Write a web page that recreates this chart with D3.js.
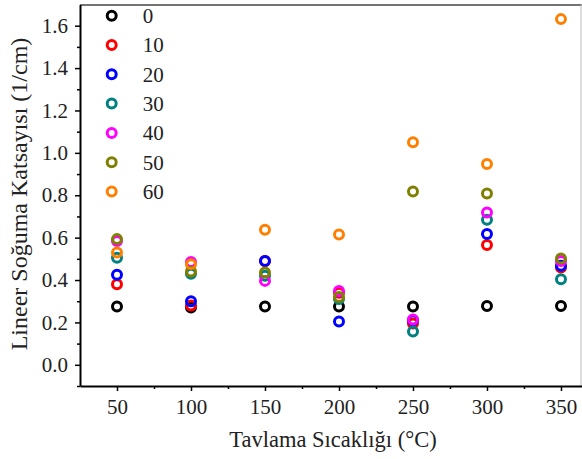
<!DOCTYPE html>
<html>
<head>
<meta charset="utf-8">
<script src="https://cdn.jsdelivr.net/npm/d3@7"></script>
<style>
  body { margin: 0; background: #fff; }
  svg { display: block; }
  svg text { font-family: "Liberation Serif", "Times New Roman", serif; }
</style>
</head>
<body>
<svg id="chart" width="582" height="459"></svg>
<script>
// annealing temperatures (x) and one series per legend entry
const temps = [50, 100, 150, 200, 250, 300, 350];
const seriesNames = ['0', '10', '20', '30', '40', '50', '60'];
const seriesColors = ['#000000', '#ff0000', '#0000ff', '#008080', '#ff00ff', '#808000', '#ff8000'];

const s0  = [0.275, 0.270, 0.275, 0.275, 0.275, 0.278, 0.278];
const s10 = [0.380, 0.280, 0.490, 0.340, 0.195, 0.565, 0.459];
const s20 = [0.425, 0.300, 0.490, 0.204, 0.210, 0.617, 0.467];
const s30 = [0.505, 0.430, 0.420, 0.310, 0.157, 0.684, 0.404];
const s40 = [0.584, 0.485, 0.396, 0.348, 0.214, 0.719, 0.490];
const s50 = [0.593, 0.440, 0.436, 0.320, 0.818, 0.808, 0.502];
const s60 = [0.530, 0.475, 0.637, 0.615, 1.050, 0.947, 1.631];
const allSeries = [s0, s10, s20, s30, s40, s50, s60];

const xTicks = [50, 100, 150, 200, 250, 300, 350];
const xMinor = [75, 125, 175, 225, 275, 325];
const yTicks = [0.0, 0.2, 0.4, 0.6, 0.8, 1.0, 1.2, 1.4, 1.6];
const yMinor = [-0.1, 0.1, 0.3, 0.5, 0.7, 0.9, 1.1, 1.3, 1.5];

const svg = d3.select('#chart');
const textColor = '#222';

const x = d3.scaleLinear().domain([25, 364]).range([80, 581.7]);
const y = d3.scaleLinear().domain([-0.1, 1.7]).range([386, 4.5]);

// frame (top and right)
svg.append('line')
    .attr('x1', x.range()[0]).attr('x2', x.range()[1])
    .attr('y1', 5).attr('y2', 5)
    .attr('stroke', '#444').attr('stroke-width', 1.5);
svg.append('line')
    .attr('x1', 581).attr('x2', 581)
    .attr('y1', 5).attr('y2', y.range()[0])
    .attr('stroke', '#bbb').attr('stroke-width', 1);

// minor ticks
svg.append('g')
    .attr('transform', `translate(0,${y.range()[0]})`)
    .call(d3.axisBottom(x).tickValues(xMinor).tickSize(3).tickFormat(''))
    .call(g => g.select('.domain').remove())
    .selectAll('line').attr('stroke-width', 1.5);
svg.append('g')
    .attr('transform', `translate(${x.range()[0]},0)`)
    .call(d3.axisLeft(y).tickValues(yMinor).tickSize(3).tickFormat(''))
    .call(g => g.select('.domain').remove())
    .selectAll('line').attr('stroke-width', 1.5);

// major axes
const xAxis = svg.append('g')
    .attr('transform', `translate(0,${y.range()[0]})`)
    .call(d3.axisBottom(x).tickValues(xTicks).tickSize(5).tickPadding(8).tickSizeOuter(0));
const yAxis = svg.append('g')
    .attr('transform', `translate(${x.range()[0]},0)`)
    .call(d3.axisLeft(y).tickValues(yTicks).tickSize(5).tickPadding(7).tickSizeOuter(0)
        .tickFormat(d3.format('.1f')));

[xAxis, yAxis].forEach(a => {
    a.attr('font-family', null);
    a.select('.domain').attr('stroke', '#000').attr('stroke-width', 2);
    a.selectAll('.tick line').attr('stroke-width', 1.5);
    a.selectAll('.tick text')
        .attr('font-size', 21)
        .attr('fill', textColor);
});

// axis titles
svg.append('text')
    .attr('x', 333).attr('y', 447)
    .attr('text-anchor', 'middle')
    .attr('font-size', 22.5)
    .attr('fill', textColor)
    .text('Tavlama Sıcaklığı (°C)');

svg.append('text')
    .attr('transform', 'translate(27,194) rotate(-90)')
    .attr('text-anchor', 'middle')
    .attr('font-size', 24)
    .attr('fill', textColor)
    .text('Lineer Soğuma Katsayısı (1/cm)');

// data markers, series drawn in legend order
allSeries.forEach((vals, i) => {
    svg.append('g')
        .selectAll('circle')
        .data(vals.map((v, j) => ({ t: temps[j], v })))
        .enter()
        .append('circle')
        .attr('cx', d => x(d.t))
        .attr('cy', d => y(d.v))
        .attr('r', 4.5)
        .attr('fill', 'none')
        .attr('stroke', seriesColors[i])
        .attr('stroke-width', 3);
});

// legend
const legend = svg.append('g');
const item = legend.selectAll('g')
    .data(seriesNames)
    .enter()
    .append('g')
    .attr('transform', (d, i) => `translate(111.7,${15.7 + i * 29.3})`);
item.append('circle')
    .attr('r', 4.5)
    .attr('fill', 'none')
    .attr('stroke', (d, i) => seriesColors[i])
    .attr('stroke-width', 3);
item.append('text')
    .attr('x', 31)
    .attr('dy', '0.35em')
    .attr('font-size', 21)
    .attr('fill', textColor)
    .text(d => d);
</script>
</body>
</html>
